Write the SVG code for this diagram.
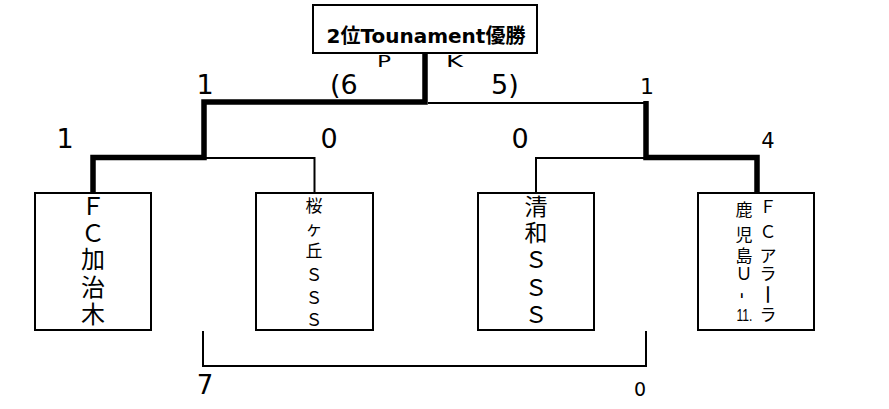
<svg xmlns="http://www.w3.org/2000/svg" width="889" height="409" viewBox="0 0 889 409">
<style>
.box{fill:#fff;stroke:#000;stroke-width:2}
.thick{fill:none;stroke:#000;stroke-width:5.5;stroke-linejoin:miter;stroke-linecap:butt}
.thin{fill:none;stroke:#000;stroke-width:2}
.num{font-family:"DejaVu Sans",Verdana,sans-serif;fill:#000}
.jp{font-family:"Liberation Sans","Noto Sans CJK JP",sans-serif;fill:#000;text-anchor:middle}
.title{font-family:"DejaVu Sans","Noto Sans CJK JP",sans-serif;font-weight:bold;font-size:20px;text-anchor:middle}
</style>
<rect width="889" height="409" fill="#fff"/>
<g id="connectors">
<path class="thick" d="M425 53 V102 H204 V157.5 H93 V193"/>
<path class="thin" d="M204 158 H314.5 V193"/>
<path class="thin" d="M428 103 H646"/>
<path class="thick" d="M646 101 V157.5 H757 V193"/>
<path class="thin" d="M646 158 H536 V193"/>
<path class="thin" d="M203 331 V366 H646 V331"/>
</g>
<g id="pk-labels" class="num">
<text x="377" y="67" font-size="16.5" textLength="14" lengthAdjust="spacingAndGlyphs">P</text>
<text x="446" y="67" font-size="16.5" textLength="17" lengthAdjust="spacingAndGlyphs">K</text>
</g>
<g id="title">
<rect class="box" x="313" y="5" width="224" height="48"/>
<text class="title" x="426" y="43">2位Tounament優勝</text>
</g>
<g id="team1">
<rect class="box" x="35" y="193" width="116" height="137"/>
<g class="jp" font-size="24">
<text x="93" y="215">Ｆ</text>
<text x="93" y="242">Ｃ</text>
<text x="93" y="268">加</text>
<text x="93" y="296">治</text>
<text x="93" y="323">木</text>
</g>
</g>
<g id="team2">
<rect class="box" x="256" y="193" width="117" height="137"/>
<g class="jp" font-size="17">
<text x="314" y="212">桜</text>
<text x="314" y="234.5">ヶ</text>
<text x="314" y="257">丘</text>
<text x="314" y="281">Ｓ</text>
<text x="314" y="303.5">Ｓ</text>
<text x="314" y="326">Ｓ</text>
</g>
</g>
<g id="team3">
<rect class="box" x="478" y="193" width="116" height="137"/>
<g class="jp" font-size="23">
<text x="536" y="215">清</text>
<text x="536" y="241">和</text>
<text x="536" y="268">Ｓ</text>
<text x="536" y="296">Ｓ</text>
<text x="536" y="323">Ｓ</text>
</g>
</g>
<g id="team4">
<rect class="box" x="698" y="193" width="116" height="137"/>
<g class="jp" font-size="17">
<text x="768" y="213">Ｆ</text>
<text x="768" y="238">Ｃ</text>
<text x="768" y="262">ア</text>
<text x="768" y="280">ラ</text>
<text font-size="21" transform="translate(760 294.5) rotate(90)">ー</text>
<text x="768" y="321">ラ</text>
<text x="744" y="216">鹿</text>
<text x="744" y="241">児</text>
<text x="744" y="262">島</text>
<text x="744" y="280">Ｕ</text>
<text font-size="20" transform="translate(735.5 295.5) rotate(90)">-</text>
<text x="744.5" y="320.5" font-size="17" textLength="16" lengthAdjust="spacingAndGlyphs">11.</text>
</g>
</g>
<g id="labels" class="num">
<text x="205" y="94" font-size="27" text-anchor="middle">1</text>
<text x="330" y="94" font-size="27">(6</text>
<text x="491" y="94" font-size="27">5)</text>
<text x="647" y="94" font-size="22" text-anchor="middle">1</text>
<text x="65" y="148" font-size="27" text-anchor="middle">1</text>
<text x="329" y="148" font-size="27" text-anchor="middle">0</text>
<text x="520" y="148" font-size="27" text-anchor="middle">0</text>
<text x="768" y="148" font-size="21" text-anchor="middle">4</text>
<text x="205" y="394" font-size="26" text-anchor="middle">7</text>
<text x="640" y="396" font-size="19" text-anchor="middle">0</text>
</g>
</svg>
